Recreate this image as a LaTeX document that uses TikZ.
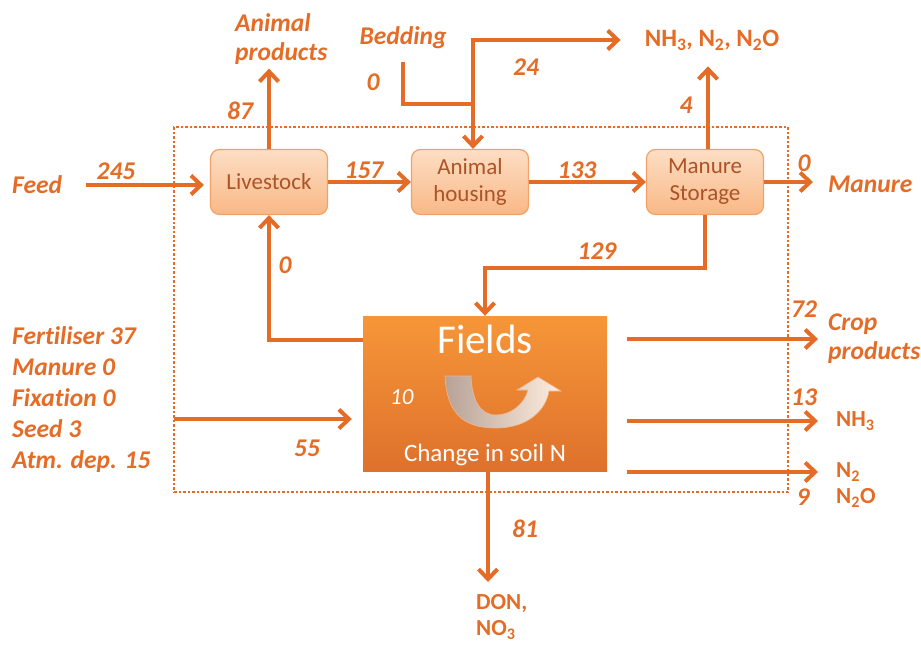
\documentclass[tikz,border=0pt]{standalone}
\usepackage{fontspec}
\setmainfont{Carlito}[Ligatures=NoCommon]
\usetikzlibrary{positioning,arrows.meta}

\definecolor{ora}{RGB}{228,108,38}
\definecolor{boxtop}{RGB}{253,222,196}
\definecolor{boxbot}{RGB}{249,184,134}
\definecolor{boxedge}{RGB}{242,162,104}
\definecolor{boxtext}{RGB}{172,84,40}
\definecolor{fieldtop}{RGB}{246,150,56}
\definecolor{fieldbot}{RGB}{222,113,44}
\definecolor{curvel}{RGB}{182,162,150}
\definecolor{curver}{RGB}{255,238,224}

\tikzset{
	tip/.tip={Straight Barb[length=10pt,width=19pt,line width=4pt]},
	flow/.style={draw=ora, line width=4pt, -tip},
	twoflow/.style={draw=ora, line width=4pt, tip-tip},
	pipe/.style={draw=ora, line width=4pt},
	lbl/.style={text=ora, inner sep=2pt, font=\bfseries\itshape\fontsize{25.5}{29}\selectfont},
	chem/.style={text=ora, inner sep=2pt, font=\bfseries\fontsize{23}{27}\selectfont},
	unit/.style={draw=boxedge, line width=1.2pt, rounded corners=9pt, top color=boxtop, bottom color=boxbot,
		minimum width=117pt, minimum height=65pt, align=center, text=boxtext, font=\fontsize{23}{27}\selectfont},
	inbox/.style={text=white, inner sep=1pt},
}

\begin{document}
\begin{tikzpicture}[x=1pt, y=-1pt, node distance=201pt]
	\useasboundingbox (0,0) rectangle (921,646);

	\node[draw=ora, line width=2.5pt, dash pattern=on 2.5pt off 2pt, minimum width=614pt, minimum height=365pt] (farm) at (481,309.5) {};

	\node[unit] (live) at (269,182) {Livestock};
	\node[unit, right of=live] (house) {Animal\\housing};
	\node[unit, right of=house, node distance=235pt] (store) {Manure\\Storage};
	\node[top color=fieldtop, bottom color=fieldbot, minimum width=244pt, minimum height=155pt] (fields) at (485,393.5) {};

	\node[inbox, font=\fontsize{41}{48}\selectfont] (ftitle) at ([yshift=-24pt]fields.north) {Fields};
	\node[inbox, font=\itshape\fontsize{23}{26}\selectfont] (fsoil) at ([xshift=39pt,yshift=-4pt]fields.west) {10};
	\node[inbox, font=\fontsize{25}{28}\selectfont] (fchange) at ([yshift=16pt]fields.south) {Change in soil N};
	\shadedraw[draw=ora!50, line width=0.6pt, left color=curvel, right color=curver]
		(445,376) .. controls (447,418) and (468,428) .. (496,428)
		.. controls (528,428) and (546,410) .. (549,391) -- (561,391) -- (538,377) -- (517,390) -- (528,390)
		.. controls (524,405) and (510,415) .. (496,415)
		.. controls (480,415) and (472,400) .. (471,376) -- cycle;

	\node[lbl, anchor=west] (feed) at (10,185) {Feed};
	\node[lbl, anchor=west, align=left] (aprod) at (233,39) {Animal\\products};
	\node[lbl] (bed) at (403,38) {Bedding};
	\node[chem, font=\bfseries\fontsize{25}{29}\selectfont] (gas) at (712,40) {NH\textsubscript{3}, N\textsubscript{2}, N\textsubscript{2}O};
	\node[lbl, anchor=west] (manure) at (826,184) {Manure};
	\node[lbl, anchor=west, align=left, font=\bfseries\itshape\fontsize{25.5}{31}\selectfont] (inputs) at (10,400) {Fertiliser 37\\Manure 0\\Fixation 0\\Seed 3\\Atm. dep. 15};
	\node[lbl, anchor=west, align=left] (crop) at (826,339) {Crop\\products};
	\node[chem, anchor=west] (nh) at (834,421) {NH\textsubscript{3}};
	\node[chem, anchor=west] (ntwo) at (834,472) {N\textsubscript{2}};
	\node[chem, anchor=west] (ntwoo) at (834,498) {N\textsubscript{2}O};
	\node[chem, anchor=north west, align=left, font=\bfseries\fontsize{23}{26}\selectfont] (don) at (474,592) {DON,\\NO\textsubscript{3}};

	\node[lbl] (f245) at (116,171) {245};
	\node[lbl] (f157) at (364,170) {157};
	\node[lbl] (f133) at (577,170) {133};
	\node[lbl] (f0m) at (804,163) {0};
	\node[lbl] (f87) at (240,111) {87};
	\node[lbl] (f0b) at (373,82) {0};
	\node[lbl] (f24) at (526,67) {24};
	\node[lbl] (f4) at (686,105) {4};
	\node[lbl] (f129) at (597,251) {129};
	\node[lbl] (f0l) at (285,265) {0};
	\node[lbl] (f55) at (307,448) {55};
	\node[lbl] (f72) at (804,309) {72};
	\node[lbl] (f13) at (804,397) {13};
	\node[lbl] (f9) at (803,497) {9};
	\node[lbl] (f81) at (525,529) {81};

	\coordinate (split) at (473,38);
	\coordinate (bedjoin) at (473,104);
	\coordinate (fin) at (174,419);
	\coordinate (rtip) at (818,0);

	\draw[flow, shorten <=22pt, shorten >=6pt] (feed.east) -- (feed.east -| live.west);
	\draw[flow] (live) -- (house);
	\draw[flow] (house) -- (store);
	\draw[flow, shorten >=13pt] (store.east) -- (store.east -| manure.west);
	\draw[flow, shorten >=2pt] (live.north) -- (live.north |- aprod.south);
	\draw[pipe, shorten <=11pt] (bed.south) |- (bedjoin);
	\draw[twoflow, shorten >=22pt] (split |- house.north) |- (gas.west);
	\draw[flow, shorten >=14pt] ([xshift=3pt]store.north) -- ([xshift=3pt]store.north |- gas.south);
	\draw[flow] (store.south) -- ++(0,53) -| (fields.north);
	\draw[flow] ([yshift=-24pt]fields.north west) -| (live.south);
	\draw[flow, shorten >=11pt] (fin) -- (fin -| fields.west);
	\draw[flow, shorten <=20pt] (crop.west -| fields.east) -- (crop.west -| rtip);
	\draw[flow, shorten <=20pt] (nh.west -| fields.east) -- (nh.west -| rtip);
	\draw[flow, shorten <=20pt] (ntwo.west -| fields.east) -- (ntwo.west -| rtip);
	\draw[flow, shorten >=10pt] ([xshift=3pt]fields.south) -- ([xshift=3pt]fields.south |- don.north);
\end{tikzpicture}
\end{document}
